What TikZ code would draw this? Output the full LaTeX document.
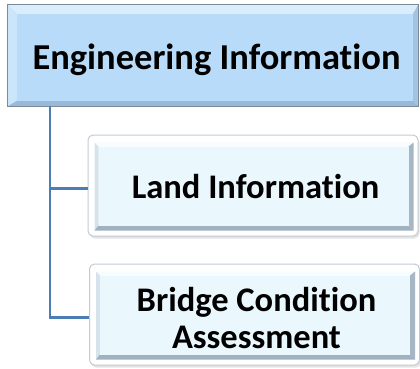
\documentclass[tikz,border=0pt]{standalone}
\usepackage{fontspec}
\setmainfont[Ligatures=NoCommon]{Carlito}
\usetikzlibrary{shadows}
\definecolor{topface}{HTML}{B8DBF9}
\definecolor{topbevelT}{HTML}{D9EDFD}
\definecolor{topbevelL}{HTML}{CBE5FB}
\definecolor{topbevelR}{HTML}{A2C4E4}
\definecolor{topbevelB}{HTML}{98B9D8}
\definecolor{topborder}{HTML}{7E8B97}
\definecolor{subface}{HTML}{EAF8FE}
\definecolor{subbevelT}{HTML}{F7FCFF}
\definecolor{subbevelL}{HTML}{D6E3EC}
\definecolor{subbevelR}{HTML}{A6B6C4}
\definecolor{subbevelB}{HTML}{A0B1BF}
\definecolor{subborder}{HTML}{C2CBD3}
\definecolor{connblue}{HTML}{4A7EB5}
\tikzset{
  topbox/.style={draw=topborder, line width=1.2pt, fill=topface, minimum width=410pt, minimum height=101pt, inner sep=0pt},
  subbox/.style={draw=subborder, line width=1pt, fill=white, rounded corners=5pt, minimum width=330pt, minimum height=101pt, inner sep=0pt,
     drop shadow={shadow xshift=1.5pt, shadow yshift=-2.5pt, opacity=0.3, fill=gray!70}},
  conn/.style={draw=connblue, line width=2.2pt},
  toplbl/.style={font=\bfseries\fontsize{36.5}{40}\selectfont, text=black, inner sep=0pt},
  sublbl/.style={font=\bfseries\fontsize{34.5}{37}\selectfont, align=center, text=black, inner sep=0pt}
}
% bevel: #1 node, #2..#5 outer offsets l,t,r,b ; #6..#9 face offsets ; prefix #10
\newcommand{\mybevel}[6]{%
  \coordinate (#1-o1) at ([xshift=#2,yshift=-#3]#1.north west);
  \coordinate (#1-o2) at ([xshift=-#4,yshift=-#3]#1.north east);
  \coordinate (#1-o3) at ([xshift=-#4,yshift=#5]#1.south east);
  \coordinate (#1-o4) at ([xshift=#2,yshift=#5]#1.south west);
  \coordinate (#1-i1) at ([xshift=4pt,yshift=-4pt]#1-o1);
  \coordinate (#1-i2) at ([xshift=-#6,yshift=-4pt]#1-o2);
  \coordinate (#1-i3) at ([xshift=-#6,yshift=#6]#1-o3);
  \coordinate (#1-i4) at ([xshift=4pt,yshift=#6]#1-o4);
}
\begin{document}
\begin{tikzpicture}[x=1pt,y=-1pt]
\useasboundingbox (0,0) rectangle (420,368);
% ---------- top box
\node[topbox] (eng) at (213,55.5) {};
\mybevel{eng}{0pt}{0pt}{0pt}{0pt}{6pt}
\fill[topbevelT] (eng-o1) -- (eng-o2) -- ([yshift=-6pt]eng-i2) -- ([xshift=6pt,yshift=-6pt]eng-i1) -- cycle;
\fill[topbevelL] (eng-o1) -- ([xshift=6pt,yshift=-6pt]eng-i1) -- ([xshift=6pt]eng-i4) -- (eng-o4) -- cycle;
\fill[topbevelR] (eng-o2) -- ([yshift=-6pt]eng-i2) -- (eng-i3) -- (eng-o3) -- cycle;
\fill[topbevelB] (eng-o4) -- ([xshift=6pt]eng-i4) -- (eng-i3) -- (eng-o3) -- cycle;
\fill[topface] ([xshift=6pt,yshift=-6pt]eng-i1) rectangle (eng-i3);
\draw[topborder, line width=1.2pt] (eng.north west) rectangle (eng.south east);
\node[toplbl, anchor=base] (engt) at (216.5,69) {Engineering Information};
% ---------- land box
\node[subbox] (land) at (253,185.5) {};
\mybevel{land}{7pt}{8pt}{5pt}{6pt}{5pt}
\fill[subbevelT] (land-o1) -- (land-o2) -- (land-i2) -- (land-i1) -- cycle;
\fill[subbevelL] (land-o1) -- (land-i1) -- (land-i4) -- (land-o4) -- cycle;
\fill[subbevelR] (land-o2) -- (land-i2) -- (land-i3) -- (land-o3) -- cycle;
\fill[subbevelB] (land-o4) -- (land-i4) -- (land-i3) -- (land-o3) -- cycle;
\fill[subface] (land-i1) rectangle (land-i3);
\node[sublbl, anchor=base] (landt) at (255.5,198) {Land Information};
% ---------- bridge box
\node[subbox] (bridge) at (254.5,314.5) {};
\mybevel{bridge}{7pt}{8pt}{5pt}{6pt}{5pt}
\fill[subbevelT] (bridge-o1) -- (bridge-o2) -- (bridge-i2) -- (bridge-i1) -- cycle;
\fill[subbevelL] (bridge-o1) -- (bridge-i1) -- (bridge-i4) -- (bridge-o4) -- cycle;
\fill[subbevelR] (bridge-o2) -- (bridge-i2) -- (bridge-i3) -- (bridge-o3) -- cycle;
\fill[subbevelB] (bridge-o4) -- (bridge-i4) -- (bridge-i3) -- (bridge-o3) -- cycle;
\fill[subface] (bridge-i1) rectangle (bridge-i3);
\node[sublbl] (bridget) at (256.5,318) {Bridge Condition\\Assessment};
% ---------- connectors
\coordinate (trunk) at (50,106);
\draw[conn] (trunk) |- ([yshift=-3pt]land.west);
\draw[conn] (trunk) |- ([yshift=-3pt]bridge.west);
\end{tikzpicture}
\end{document}
